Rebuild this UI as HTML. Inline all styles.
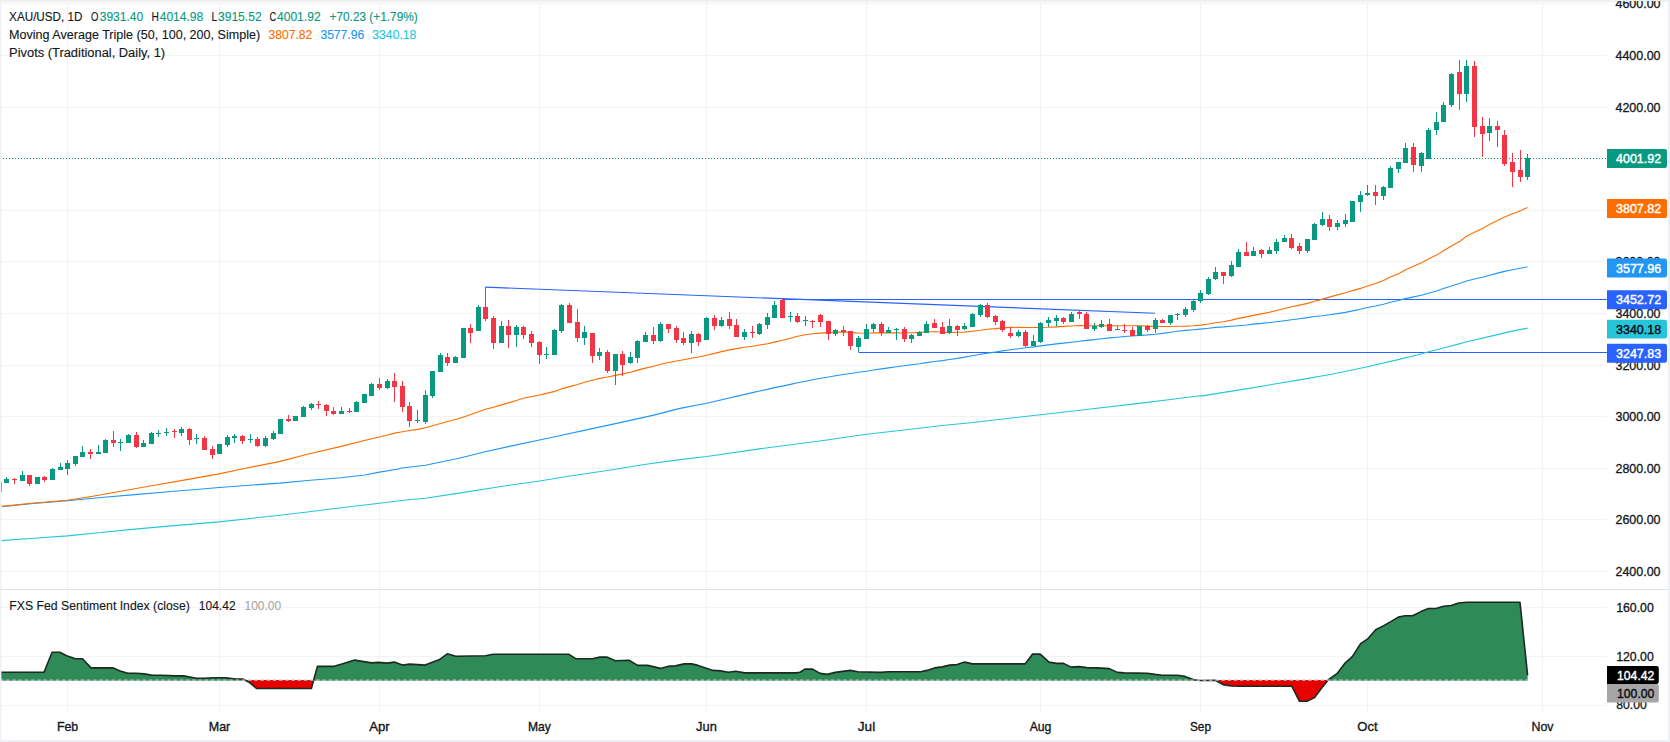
<!DOCTYPE html>
<html lang="en"><head><meta charset="utf-8"><title>XAU/USD 1D chart</title>
<style>html,body{margin:0;padding:0;background:#fff}body{width:1670px;height:742px;overflow:hidden}</style></head>
<body>
<svg width="1670" height="742" viewBox="0 0 1670 742" style="display:block">
<rect width="1670" height="742" fill="#fff"/>
<g stroke="#f2f3f3" stroke-width="1">
<line x1="67.50" y1="2" x2="67.50" y2="712"/>
<line x1="219.50" y1="2" x2="219.50" y2="712"/>
<line x1="379.50" y1="2" x2="379.50" y2="712"/>
<line x1="539.50" y1="2" x2="539.50" y2="712"/>
<line x1="706.50" y1="2" x2="706.50" y2="712"/>
<line x1="866.50" y1="2" x2="866.50" y2="712"/>
<line x1="1040.50" y1="2" x2="1040.50" y2="712"/>
<line x1="1200.50" y1="2" x2="1200.50" y2="712"/>
<line x1="1367.50" y1="2" x2="1367.50" y2="712"/>
<line x1="1542.50" y1="2" x2="1542.50" y2="712"/>
<line x1="0" y1="571.50" x2="1607" y2="571.50"/>
<line x1="0" y1="519.50" x2="1607" y2="519.50"/>
<line x1="0" y1="468.50" x2="1607" y2="468.50"/>
<line x1="0" y1="416.50" x2="1607" y2="416.50"/>
<line x1="0" y1="365.50" x2="1607" y2="365.50"/>
<line x1="0" y1="313.50" x2="1607" y2="313.50"/>
<line x1="0" y1="261.50" x2="1607" y2="261.50"/>
<line x1="0" y1="210.50" x2="1607" y2="210.50"/>
<line x1="0" y1="158.50" x2="1607" y2="158.50"/>
<line x1="0" y1="107.50" x2="1607" y2="107.50"/>
<line x1="0" y1="55.50" x2="1607" y2="55.50"/>
<line x1="0" y1="3.50" x2="1607" y2="3.50"/>
<line x1="0" y1="607.50" x2="1607" y2="607.50"/>
<line x1="0" y1="656.50" x2="1607" y2="656.50"/>
<line x1="0" y1="705.50" x2="1607" y2="705.50"/>
</g>
<line x1="0" y1="589.5" x2="1670" y2="589.5" stroke="#dfe2ea" stroke-width="1.2"/>
<g stroke="#2962ff" stroke-width="1.1" fill="none">
<line x1="485.5" y1="287.1" x2="1155" y2="313.3" stroke-width="1.15"/>
<line x1="782.5" y1="299.5" x2="1607" y2="299.5"/>
<line x1="858.5" y1="352.5" x2="1607" y2="352.5"/>
</g>
<line x1="0" y1="158.5" x2="1607" y2="158.5" stroke="#089981" stroke-width="1" stroke-dasharray="1 2"/>
<path d="M1.7,540.6 L33.7,538.2 L67.4,535.9 L101.1,532.5 L134.8,529.1 L168.5,526.1 L219.0,521.9 L252.7,518.2 L280.0,515.3 L307.4,512.0 L341.1,507.8 L379.5,503.3 L408.5,499.7 L425.3,498.2 L459.0,493.1 L501.1,486.5 L539.5,481.0 L568.5,476.3 L610.6,470.0 L644.3,464.5 L680.0,459.6 L706.7,456.5 L761.1,448.6 L820.0,441.0 L866.4,434.2 L904.3,430.0 L940.0,425.8 L970.5,422.8 L1040.5,414.7 L1088.5,409.3 L1139.0,403.4 L1172.7,399.2 L1200.0,395.8 L1200.6,396.1 L1247.4,388.6 L1297.9,380.1 L1331.6,374.2 L1367.5,366.7 L1399.0,359.4 L1417.0,355.0 L1426.8,352.3 L1440.5,348.8 L1460.0,343.6 L1465.8,342.0 L1491.1,336.1 L1511.3,331.4 L1527.6,328.1" fill="none" stroke="#26c6da" stroke-width="1.1" stroke-linejoin="round"/>
<path d="M1.7,506.7 L33.7,503.5 L67.4,500.8 L101.1,497.5 L134.8,494.6 L168.5,491.7 L202.2,489.0 L219.0,487.5 L252.7,485.0 L280.0,483.1 L307.4,480.5 L341.1,477.8 L364.7,475.0 L379.5,472.1 L400.0,468.7 L400.0,468.2 L425.3,465.3 L459.0,458.2 L484.2,452.0 L509.5,446.4 L539.5,440.0 L555.0,436.8 L585.3,430.1 L619.0,422.9 L652.7,415.4 L680.0,408.4 L706.7,403.2 L752.5,392.6 L759.5,391.0 L767.5,389.4 L774.5,387.6 L782.5,386.1 L790.5,384.4 L797.5,382.8 L805.5,381.2 L812.5,379.7 L820.5,378.3 L828.5,377.0 L835.5,375.7 L843.5,374.5 L850.5,373.5 L858.5,372.3 L866.5,371.2 L873.5,370.0 L881.5,368.9 L888.5,367.9 L896.5,366.7 L904.5,365.7 L911.5,364.7 L919.5,363.7 L926.5,362.6 L934.5,361.5 L942.5,360.6 L949.5,359.5 L957.5,358.4 L964.5,357.1 L972.5,355.7 L980.5,354.3 L987.5,353.1 L995.5,352.0 L1002.5,350.9 L1010.5,349.8 L1018.5,348.7 L1025.5,347.8 L1033.5,346.9 L1040.5,345.9 L1048.5,344.9 L1056.5,343.9 L1063.5,343.1 L1071.5,342.2 L1079.5,341.3 L1086.5,340.4 L1094.5,339.6 L1101.5,338.7 L1109.5,337.9 L1117.5,337.2 L1124.5,336.5 L1132.5,336.0 L1139.5,335.4 L1147.5,334.9 L1155.5,334.2 L1162.5,333.4 L1170.5,332.3 L1177.5,331.3 L1185.5,330.4 L1193.5,329.7 L1200.5,329.1 L1208.5,328.3 L1215.5,327.4 L1223.5,326.9 L1231.5,326.2 L1238.5,325.7 L1246.5,325.0 L1253.5,324.1 L1261.5,323.4 L1269.5,322.5 L1276.5,321.7 L1284.5,320.7 L1291.5,319.8 L1299.5,318.7 L1307.5,317.6 L1314.5,316.5 L1322.5,315.7 L1329.5,314.7 L1337.5,313.6 L1345.5,312.4 L1352.5,310.9 L1360.5,309.3 L1367.5,307.5 L1375.5,306.0 L1383.5,304.2 L1390.5,302.3 L1398.5,300.5 L1405.5,298.6 L1413.5,296.9 L1421.5,295.2 L1428.5,293.2 L1436.5,291.0 L1443.5,288.6 L1451.5,286.0 L1459.5,283.5 L1466.5,281.0 L1474.5,279.0 L1482.5,277.2 L1489.5,275.2 L1497.5,273.1 L1504.5,271.4 L1512.5,269.8 L1520.5,268.3 L1527.5,266.7" fill="none" stroke="#2196f3" stroke-width="1.1" stroke-linejoin="round"/>
<path d="M1.7,506.4 L33.7,503.0 L67.4,500.2 L92.7,496.3 L117.9,491.7 L151.6,485.8 L185.3,479.9 L219.0,473.9 L244.3,468.5 L280.0,461.4 L307.4,454.3 L341.1,446.4 L371.5,438.8 L379.5,437.0 L387.5,435.0 L394.5,433.1 L402.5,431.8 L409.5,430.5 L417.5,429.4 L425.5,427.7 L432.5,425.7 L440.5,423.5 L447.5,421.5 L455.5,419.5 L463.5,417.0 L470.5,414.6 L478.5,411.7 L485.5,409.2 L493.5,407.2 L501.5,404.9 L508.5,402.9 L516.5,400.5 L523.5,398.3 L531.5,396.5 L539.5,395.0 L546.5,393.4 L554.5,391.4 L561.5,388.9 L569.5,386.6 L577.5,384.5 L584.5,382.2 L592.5,380.2 L599.5,378.4 L607.5,377.0 L615.5,375.4 L622.5,373.9 L630.5,372.2 L637.5,370.1 L645.5,368.1 L653.5,366.2 L660.5,364.3 L668.5,362.5 L676.5,361.0 L683.5,359.7 L691.5,358.3 L698.5,357.0 L706.5,355.2 L714.5,353.4 L721.5,351.6 L729.5,349.9 L736.5,348.6 L744.5,347.3 L752.5,346.3 L759.5,345.0 L767.5,343.7 L774.5,342.1 L782.5,340.3 L790.5,338.2 L797.5,336.3 L805.5,334.8 L812.5,333.8 L820.5,333.1 L828.5,332.6 L835.5,332.0 L843.5,332.1 L850.5,332.4 L858.5,333.0 L866.5,333.2 L873.5,332.8 L881.5,332.9 L888.5,332.8 L896.5,332.9 L904.5,333.0 L911.5,332.8 L919.5,332.4 L926.5,331.8 L934.5,331.7 L942.5,332.3 L949.5,332.4 L957.5,332.2 L964.5,332.1 L972.5,331.2 L980.5,330.3 L987.5,329.2 L995.5,328.6 L1002.5,327.9 L1010.5,327.4 L1018.5,327.3 L1025.5,327.5 L1033.5,327.5 L1040.5,327.5 L1048.5,327.3 L1056.5,326.9 L1063.5,326.4 L1071.5,326.0 L1079.5,325.5 L1086.5,325.7 L1094.5,325.7 L1101.5,325.8 L1109.5,325.9 L1117.5,325.7 L1124.5,325.7 L1132.5,325.8 L1139.5,325.8 L1147.5,326.1 L1155.5,326.4 L1162.5,326.5 L1170.5,326.5 L1177.5,326.3 L1185.5,326.1 L1193.5,325.7 L1200.5,325.1 L1208.5,324.0 L1215.5,322.8 L1223.5,321.7 L1231.5,320.1 L1238.5,318.4 L1246.5,316.9 L1253.5,315.4 L1261.5,313.9 L1269.5,312.3 L1276.5,310.5 L1284.5,308.5 L1291.5,306.7 L1299.5,305.1 L1307.5,303.4 L1314.5,301.3 L1322.5,299.1 L1329.5,297.1 L1337.5,294.9 L1345.5,292.8 L1352.5,290.6 L1360.5,288.4 L1367.5,285.9 L1375.5,283.4 L1383.5,280.5 L1390.5,277.1 L1398.5,273.7 L1405.5,269.8 L1413.5,266.3 L1421.5,262.8 L1428.5,259.0 L1436.5,255.1 L1443.5,250.8 L1451.5,246.0 L1459.5,241.6 L1466.5,236.3 L1474.5,232.3 L1482.5,228.5 L1489.5,224.4 L1497.5,220.4 L1504.5,217.1 L1512.5,213.8 L1520.5,210.8 L1527.5,207.4" fill="none" stroke="#ff6d00" stroke-width="1.1" stroke-linejoin="round"/>
<path d="M-0.50,482.00V492.00M6.50,477.00V483.00M22.50,471.00V481.00M37.50,477.00V484.00M52.50,468.00V480.00M60.50,463.00V470.00M67.50,460.00V475.00M75.50,456.00V466.00M82.50,446.00V457.00M98.50,445.00V454.00M105.50,439.00V453.00M120.50,439.00V451.00M128.50,434.00V443.00M143.50,440.00V447.00M151.50,432.00V444.00M158.50,430.00V437.00M166.50,428.00V436.00M181.50,427.00V436.00M196.50,434.00V444.00M219.50,444.00V454.00M227.50,435.00V447.00M234.50,434.00V443.00M250.50,434.00V443.00M265.50,436.00V447.00M273.50,431.00V440.00M280.50,419.00V434.00M295.50,416.00V421.00M303.50,406.00V417.00M311.50,403.00V410.00M341.50,407.00V414.00M356.50,401.00V412.00M364.50,394.00V403.00M371.50,383.00V396.00M387.50,379.00V389.00M417.50,410.00V423.00M425.50,390.00V424.00M432.50,371.00V398.00M440.50,353.00V372.00M455.50,356.00V363.00M463.50,328.00V358.00M478.50,305.00V331.00M501.50,321.00V343.00M516.50,325.00V347.00M546.50,347.00V359.00M554.50,329.00V355.00M561.50,304.00V333.00M584.50,326.00V345.00M599.50,348.00V360.00M615.50,354.00V385.00M630.50,352.00V364.00M637.50,340.00V363.00M645.50,332.00V342.00M660.50,322.00V342.00M691.50,331.00V353.00M706.50,317.00V340.00M721.50,317.00V327.00M744.50,329.00V340.00M759.50,323.00V335.00M767.50,313.00V329.00M774.50,301.00V318.00M790.50,312.00V322.00M805.50,316.00V326.00M835.50,329.00V336.00M858.50,336.00V352.00M866.50,324.00V339.00M873.50,323.00V332.00M888.50,327.00V333.00M896.50,328.00V340.00M911.50,334.00V343.00M919.50,331.00V336.00M926.50,321.00V333.00M949.50,319.00V334.00M964.50,323.00V330.00M972.50,313.00V327.00M980.50,304.00V317.00M1018.50,330.00V337.00M1033.50,335.00V346.00M1040.50,322.00V343.00M1048.50,317.00V327.00M1056.50,315.00V326.00M1071.50,312.00V322.00M1094.50,323.00V331.00M1101.50,320.00V328.00M1117.50,326.00V330.00M1139.50,326.00V336.00M1155.50,318.00V333.00M1170.50,315.00V325.00M1177.50,313.00V320.00M1185.50,307.00V317.00M1193.50,299.00V312.00M1200.50,290.00V303.00M1208.50,277.00V295.00M1215.50,267.00V280.00M1231.50,261.00V277.00M1238.50,249.00V267.00M1253.50,247.00V256.00M1269.50,247.00V254.00M1276.50,239.00V254.00M1284.50,235.00V242.00M1307.50,239.00V253.00M1314.50,223.00V240.00M1322.50,212.00V226.00M1337.50,220.00V230.00M1345.50,214.00V227.00M1352.50,201.00V222.00M1360.50,191.00V212.00M1367.50,185.00V196.00M1383.50,186.00V200.00M1390.50,166.00V188.00M1398.50,162.00V173.00M1405.50,143.00V163.00M1421.50,152.00V172.00M1428.50,128.00V159.00M1436.50,112.00V135.00M1443.50,102.00V122.00M1451.50,73.00V107.00M1466.50,60.00V102.00M1489.50,118.00V141.00M1527.50,154.00V180.00" stroke="#089981" stroke-width="1" fill="none"/>
<path d="M-3.00,482.00h5V492.00h-5zM4.00,479.00h5V483.00h-5zM20.00,475.00h5V481.00h-5zM35.00,477.00h5V484.00h-5zM50.00,469.00h5V480.00h-5zM58.00,467.00h5V470.00h-5zM65.00,463.00h5V469.00h-5zM73.00,456.00h5V464.00h-5zM80.00,452.00h5V457.00h-5zM96.00,452.00h5V454.00h-5zM103.00,440.00h5V453.00h-5zM118.00,442.00h5V443.00h-5zM126.00,435.00h5V443.00h-5zM141.00,443.00h5V447.00h-5zM149.00,433.00h5V444.00h-5zM156.00,433.00h5V434.00h-5zM164.00,432.00h5V433.00h-5zM179.00,429.00h5V433.00h-5zM194.00,438.00h5V439.00h-5zM217.00,444.00h5V454.00h-5zM225.00,437.00h5V445.00h-5zM232.00,436.00h5V438.00h-5zM248.00,439.00h5V440.00h-5zM263.00,438.00h5V446.00h-5zM271.00,433.00h5V439.00h-5zM278.00,419.00h5V434.00h-5zM293.00,416.00h5V421.00h-5zM301.00,407.00h5V417.00h-5zM309.00,404.00h5V408.00h-5zM339.00,411.00h5V414.00h-5zM354.00,402.00h5V412.00h-5zM362.00,394.00h5V403.00h-5zM369.00,384.00h5V396.00h-5zM385.00,381.00h5V388.00h-5zM415.00,420.00h5V421.00h-5zM423.00,395.00h5V422.00h-5zM430.00,371.00h5V396.00h-5zM438.00,355.00h5V372.00h-5zM453.00,357.00h5V363.00h-5zM461.00,328.00h5V358.00h-5zM476.00,307.00h5V331.00h-5zM499.00,326.00h5V343.00h-5zM514.00,327.00h5V335.00h-5zM544.00,354.00h5V355.00h-5zM552.00,330.00h5V355.00h-5zM559.00,305.00h5V331.00h-5zM582.00,332.00h5V338.00h-5zM597.00,352.00h5V356.00h-5zM613.00,354.00h5V371.00h-5zM628.00,357.00h5V363.00h-5zM635.00,341.00h5V358.00h-5zM643.00,335.00h5V342.00h-5zM658.00,324.00h5V341.00h-5zM689.00,334.00h5V343.00h-5zM704.00,318.00h5V340.00h-5zM719.00,320.00h5V326.00h-5zM742.00,332.00h5V337.00h-5zM757.00,324.00h5V334.00h-5zM765.00,317.00h5V325.00h-5zM772.00,305.00h5V318.00h-5zM788.00,316.00h5V317.00h-5zM803.00,320.00h5V321.00h-5zM833.00,330.00h5V334.00h-5zM856.00,338.00h5V347.00h-5zM864.00,329.00h5V339.00h-5zM871.00,324.00h5V329.00h-5zM886.00,330.00h5V333.00h-5zM894.00,329.00h5V330.00h-5zM909.00,335.00h5V339.00h-5zM917.00,332.00h5V336.00h-5zM924.00,324.00h5V333.00h-5zM947.00,326.00h5V333.00h-5zM962.00,326.00h5V329.00h-5zM970.00,314.00h5V327.00h-5zM978.00,305.00h5V315.00h-5zM1016.00,332.00h5V336.00h-5zM1031.00,341.00h5V346.00h-5zM1038.00,323.00h5V342.00h-5zM1046.00,320.00h5V323.00h-5zM1054.00,318.00h5V321.00h-5zM1069.00,314.00h5V322.00h-5zM1092.00,326.00h5V329.00h-5zM1099.00,324.00h5V327.00h-5zM1115.00,329.00h5V330.00h-5zM1137.00,326.00h5V336.00h-5zM1153.00,320.00h5V329.00h-5zM1168.00,315.00h5V323.00h-5zM1175.00,314.00h5V315.00h-5zM1183.00,309.00h5V315.00h-5zM1191.00,301.00h5V310.00h-5zM1198.00,293.00h5V301.00h-5zM1206.00,279.00h5V294.00h-5zM1213.00,272.00h5V279.00h-5zM1229.00,265.00h5V276.00h-5zM1236.00,252.00h5V267.00h-5zM1251.00,251.00h5V256.00h-5zM1267.00,250.00h5V254.00h-5zM1274.00,242.00h5V251.00h-5zM1282.00,238.00h5V242.00h-5zM1305.00,239.00h5V251.00h-5zM1312.00,224.00h5V240.00h-5zM1320.00,219.00h5V225.00h-5zM1335.00,223.00h5V227.00h-5zM1343.00,220.00h5V224.00h-5zM1350.00,201.00h5V222.00h-5zM1358.00,195.00h5V202.00h-5zM1365.00,193.00h5V195.00h-5zM1381.00,187.00h5V196.00h-5zM1388.00,168.00h5V188.00h-5zM1396.00,162.00h5V169.00h-5zM1403.00,148.00h5V163.00h-5zM1419.00,153.00h5V166.00h-5zM1426.00,130.00h5V159.00h-5zM1434.00,122.00h5V130.00h-5zM1441.00,105.00h5V122.00h-5zM1449.00,74.00h5V105.00h-5zM1464.00,66.00h5V94.00h-5zM1487.00,126.00h5V133.00h-5zM1525.00,158.00h5V177.00h-5z" fill="#089981"/>
<path d="M14.50,478.00V484.00M29.50,475.00V486.00M44.50,476.00V482.00M90.50,449.00V459.00M113.50,431.00V447.00M136.50,432.00V448.00M174.50,429.00V438.00M189.50,428.00V445.00M204.50,436.00V450.00M212.50,446.00V459.00M242.50,435.00V444.00M257.50,437.00V447.00M288.50,415.00V422.00M318.50,401.00V409.00M326.50,404.00V416.00M333.50,407.00V415.00M349.50,408.00V413.00M379.50,378.00V390.00M394.50,373.00V402.00M402.50,381.00V412.00M409.50,402.00V427.00M447.50,353.00V366.00M470.50,324.00V343.00M485.50,287.00V321.00M493.50,316.00V349.00M508.50,320.00V348.00M523.50,326.00V339.00M531.50,331.00V347.00M539.50,341.00V364.00M569.50,303.00V323.00M577.50,309.00V342.00M592.50,333.00V363.00M607.50,350.00V373.00M622.50,351.00V376.00M653.50,327.00V344.00M668.50,324.00V333.00M676.50,326.00V343.00M683.50,332.00V345.00M698.50,333.00V346.00M714.50,315.00V330.00M729.50,312.00V329.00M736.50,319.00V337.00M752.50,326.00V338.00M782.50,299.00V318.00M797.50,313.00V323.00M812.50,320.00V328.00M820.50,314.00V327.00M828.50,321.00V340.00M843.50,326.00V336.00M850.50,331.00V350.00M881.50,322.00V336.00M904.50,327.00V342.00M934.50,319.00V328.00M942.50,322.00V334.00M957.50,325.00V336.00M987.50,303.00V318.00M995.50,315.00V325.00M1002.50,320.00V332.00M1010.50,327.00V338.00M1025.50,330.00V347.00M1063.50,317.00V324.00M1079.50,311.00V319.00M1086.50,312.00V329.00M1109.50,319.00V331.00M1124.50,324.00V333.00M1132.50,327.00V336.00M1147.50,325.00V332.00M1162.50,319.00V323.00M1223.50,272.00V284.00M1246.50,242.00V256.00M1261.50,249.00V258.00M1291.50,234.00V249.00M1299.50,243.00V254.00M1329.50,215.00V231.00M1375.50,185.00V205.00M1413.50,143.00V172.00M1459.50,60.00V110.00M1474.50,61.00V137.00M1482.50,117.00V157.00M1497.50,121.00V147.00M1504.50,130.00V166.00M1512.50,153.00V187.00M1520.50,150.00V182.00" stroke="#f23645" stroke-width="1" fill="none"/>
<path d="M12.00,479.00h5V480.00h-5zM27.00,475.00h5V484.00h-5zM42.00,477.00h5V480.00h-5zM88.00,452.00h5V454.00h-5zM111.00,440.00h5V443.00h-5zM134.00,435.00h5V447.00h-5zM172.00,431.00h5V432.00h-5zM187.00,429.00h5V440.00h-5zM202.00,438.00h5V450.00h-5zM210.00,449.00h5V455.00h-5zM240.00,436.00h5V441.00h-5zM255.00,439.00h5V446.00h-5zM286.00,419.00h5V421.00h-5zM316.00,404.00h5V405.00h-5zM324.00,405.00h5V411.00h-5zM331.00,411.00h5V414.00h-5zM347.00,411.00h5V412.00h-5zM377.00,384.00h5V388.00h-5zM392.00,381.00h5V387.00h-5zM400.00,386.00h5V407.00h-5zM407.00,406.00h5V421.00h-5zM445.00,357.00h5V363.00h-5zM468.00,328.00h5V333.00h-5zM483.00,307.00h5V319.00h-5zM491.00,318.00h5V343.00h-5zM506.00,326.00h5V335.00h-5zM521.00,327.00h5V335.00h-5zM529.00,334.00h5V343.00h-5zM537.00,342.00h5V355.00h-5zM567.00,305.00h5V323.00h-5zM575.00,322.00h5V338.00h-5zM590.00,333.00h5V356.00h-5zM605.00,352.00h5V371.00h-5zM620.00,354.00h5V365.00h-5zM651.00,335.00h5V341.00h-5zM666.00,324.00h5V329.00h-5zM674.00,328.00h5V340.00h-5zM681.00,338.00h5V343.00h-5zM696.00,334.00h5V342.00h-5zM712.00,318.00h5V326.00h-5zM727.00,319.00h5V326.00h-5zM734.00,325.00h5V337.00h-5zM750.00,332.00h5V333.00h-5zM780.00,300.00h5V318.00h-5zM795.00,316.00h5V322.00h-5zM810.00,321.00h5V322.00h-5zM818.00,315.00h5V322.00h-5zM826.00,321.00h5V334.00h-5zM841.00,330.00h5V332.00h-5zM848.00,331.00h5V346.00h-5zM879.00,324.00h5V333.00h-5zM902.00,329.00h5V339.00h-5zM932.00,323.00h5V328.00h-5zM940.00,327.00h5V334.00h-5zM955.00,326.00h5V330.00h-5zM985.00,305.00h5V317.00h-5zM993.00,316.00h5V322.00h-5zM1000.00,321.00h5V330.00h-5zM1008.00,333.00h5V336.00h-5zM1023.00,332.00h5V346.00h-5zM1061.00,318.00h5V322.00h-5zM1077.00,312.00h5V314.00h-5zM1084.00,314.00h5V329.00h-5zM1107.00,324.00h5V331.00h-5zM1122.00,330.00h5V331.00h-5zM1130.00,330.00h5V336.00h-5zM1145.00,326.00h5V330.00h-5zM1160.00,320.00h5V323.00h-5zM1221.00,272.00h5V276.00h-5zM1244.00,252.00h5V256.00h-5zM1259.00,250.00h5V254.00h-5zM1289.00,238.00h5V248.00h-5zM1297.00,246.00h5V251.00h-5zM1327.00,219.00h5V227.00h-5zM1373.00,192.00h5V196.00h-5zM1411.00,147.00h5V165.00h-5zM1457.00,72.00h5V94.00h-5zM1472.00,66.00h5V127.00h-5zM1480.00,126.00h5V134.00h-5zM1495.00,126.00h5V130.00h-5zM1502.00,135.00h5V164.00h-5zM1510.00,162.00h5V172.00h-5zM1518.00,170.00h5V177.00h-5z" fill="#f23645"/>
<path d="M0.0,672.2 L2.0,672.2 L44.0,672.2 L52.1,652.3 L59.9,652.3 L66.6,655.8 L75.4,658.8 L82.5,658.8 L91.0,667.9 L113.2,667.9 L120.2,670.9 L127.8,673.2 L135.8,673.2 L144.6,673.9 L152.2,675.2 L161.0,675.2 L176.0,675.9 L183.6,675.9 L196.2,678.2 L203.7,678.2 L213.8,677.7 L226.3,677.7 L235.1,679.0 L242.7,679.0 L245.7,680.8 L249.0,680.8 L256.5,680.8 L311.4,680.8 L313.5,680.8 L317.4,666.4 L333.2,666.4 L342.0,663.9 L354.6,660.1 L362.2,661.4 L371.7,662.9 L378.5,662.4 L387.3,663.1 L394.3,662.1 L402.4,665.1 L409.9,664.1 L425.1,665.1 L439.0,659.8 L447.3,653.8 L455.8,656.3 L485.5,655.8 L493.1,654.3 L569.0,654.3 L576.0,658.8 L592.4,658.8 L599.9,657.1 L606.7,657.1 L615.3,660.8 L628.9,660.3 L637.7,665.4 L647.7,665.4 L660.3,668.4 L667.8,666.4 L675.4,665.9 L684.2,663.9 L691.7,663.9 L698.0,665.4 L713.1,670.4 L720.7,670.9 L728.2,672.2 L735.7,671.2 L744.6,672.9 L796.1,672.9 L800.0,672.2 L804.9,669.1 L805.0,669.1 L812.5,669.1 L812.6,669.1 L820.1,673.4 L827.2,674.4 L835.2,672.4 L850.3,670.4 L857.8,671.7 L880.5,672.4 L888.0,671.7 L920.7,671.7 L927.0,670.4 L934.6,667.9 L942.1,666.9 L949.6,665.1 L957.2,664.6 L964.7,662.1 L972.3,663.9 L1025.1,663.9 L1032.6,654.1 L1040.2,654.1 L1049.0,662.1 L1056.5,663.4 L1063.6,663.4 L1071.1,667.1 L1078.7,666.6 L1086.7,667.6 L1096.8,667.9 L1109.3,668.6 L1117.4,672.4 L1124.4,672.9 L1147.1,673.2 L1155.1,674.4 L1162.2,675.2 L1177.2,675.2 L1185.0,676.4 L1193.8,679.7 L1200.1,680.5 L1215.2,680.2 L1215.7,680.8 L1224.0,680.8 L1231.6,680.8 L1239.1,680.8 L1291.9,680.8 L1299.5,680.8 L1307.0,680.8 L1314.6,680.8 L1321.3,680.8 L1327.8,680.8 L1328.4,679.7 L1337.2,673.4 L1344.7,663.4 L1352.3,656.6 L1360.6,643.7 L1367.4,639.2 L1375.7,629.7 L1383.7,625.6 L1390.8,621.6 L1398.3,617.1 L1405.1,615.8 L1412.6,615.8 L1420.9,611.6 L1428.5,608.5 L1436.0,608.5 L1443.6,606.3 L1451.1,605.5 L1458.7,603.0 L1466.7,602.3 L1520.0,602.3 L1527.6,675.4 L1527.6,680.8 L0.0,680.8 Z" fill="#2e8b57"/>
<path d="M0.0,680.0 L2.0,680.0 L44.0,680.0 L52.1,680.0 L59.9,680.0 L66.6,680.0 L75.4,680.0 L82.5,680.0 L91.0,680.0 L113.2,680.0 L120.2,680.0 L127.8,680.0 L135.8,680.0 L144.6,680.0 L152.2,680.0 L161.0,680.0 L176.0,680.0 L183.6,680.0 L196.2,680.0 L203.7,680.0 L213.8,680.0 L226.3,680.0 L235.1,680.0 L242.7,680.0 L245.7,680.0 L249.0,682.2 L256.5,688.5 L311.4,688.5 L313.5,680.0 L317.4,680.0 L333.2,680.0 L342.0,680.0 L354.6,680.0 L362.2,680.0 L371.7,680.0 L378.5,680.0 L387.3,680.0 L394.3,680.0 L402.4,680.0 L409.9,680.0 L425.1,680.0 L439.0,680.0 L447.3,680.0 L455.8,680.0 L485.5,680.0 L493.1,680.0 L569.0,680.0 L576.0,680.0 L592.4,680.0 L599.9,680.0 L606.7,680.0 L615.3,680.0 L628.9,680.0 L637.7,680.0 L647.7,680.0 L660.3,680.0 L667.8,680.0 L675.4,680.0 L684.2,680.0 L691.7,680.0 L698.0,680.0 L713.1,680.0 L720.7,680.0 L728.2,680.0 L735.7,680.0 L744.6,680.0 L796.1,680.0 L800.0,680.0 L804.9,680.0 L805.0,680.0 L812.5,680.0 L812.6,680.0 L820.1,680.0 L827.2,680.0 L835.2,680.0 L850.3,680.0 L857.8,680.0 L880.5,680.0 L888.0,680.0 L920.7,680.0 L927.0,680.0 L934.6,680.0 L942.1,680.0 L949.6,680.0 L957.2,680.0 L964.7,680.0 L972.3,680.0 L1025.1,680.0 L1032.6,680.0 L1040.2,680.0 L1049.0,680.0 L1056.5,680.0 L1063.6,680.0 L1071.1,680.0 L1078.7,680.0 L1086.7,680.0 L1096.8,680.0 L1109.3,680.0 L1117.4,680.0 L1124.4,680.0 L1147.1,680.0 L1155.1,680.0 L1162.2,680.0 L1177.2,680.0 L1185.0,680.0 L1193.8,680.0 L1200.1,680.0 L1215.2,680.0 L1215.7,680.0 L1224.0,685.0 L1231.6,686.0 L1239.1,686.3 L1291.9,686.3 L1299.5,701.3 L1307.0,701.3 L1314.6,697.6 L1321.3,688.5 L1327.8,680.0 L1328.4,680.0 L1337.2,680.0 L1344.7,680.0 L1352.3,680.0 L1360.6,680.0 L1367.4,680.0 L1375.7,680.0 L1383.7,680.0 L1390.8,680.0 L1398.3,680.0 L1405.1,680.0 L1412.6,680.0 L1420.9,680.0 L1428.5,680.0 L1436.0,680.0 L1443.6,680.0 L1451.1,680.0 L1458.7,680.0 L1466.7,680.0 L1520.0,680.0 L1527.6,680.0 L1527.6,680.0 L0.0,680.0 Z" fill="#e60000"/>
<path d="M0.0,672.2 L2.0,672.2 L44.0,672.2 L52.1,652.3 L59.9,652.3 L66.6,655.8 L75.4,658.8 L82.5,658.8 L91.0,667.9 L113.2,667.9 L120.2,670.9 L127.8,673.2 L135.8,673.2 L144.6,673.9 L152.2,675.2 L161.0,675.2 L176.0,675.9 L183.6,675.9 L196.2,678.2 L203.7,678.2 L213.8,677.7 L226.3,677.7 L235.1,679.0 L242.7,679.0 L245.7,680.5 L249.0,682.2 L256.5,688.5 L311.4,688.5 L313.5,680.5 L317.4,666.4 L333.2,666.4 L342.0,663.9 L354.6,660.1 L362.2,661.4 L371.7,662.9 L378.5,662.4 L387.3,663.1 L394.3,662.1 L402.4,665.1 L409.9,664.1 L425.1,665.1 L439.0,659.8 L447.3,653.8 L455.8,656.3 L485.5,655.8 L493.1,654.3 L569.0,654.3 L576.0,658.8 L592.4,658.8 L599.9,657.1 L606.7,657.1 L615.3,660.8 L628.9,660.3 L637.7,665.4 L647.7,665.4 L660.3,668.4 L667.8,666.4 L675.4,665.9 L684.2,663.9 L691.7,663.9 L698.0,665.4 L713.1,670.4 L720.7,670.9 L728.2,672.2 L735.7,671.2 L744.6,672.9 L796.1,672.9 L800.0,672.2 L804.9,669.1 L805.0,669.1 L812.5,669.1 L812.6,669.1 L820.1,673.4 L827.2,674.4 L835.2,672.4 L850.3,670.4 L857.8,671.7 L880.5,672.4 L888.0,671.7 L920.7,671.7 L927.0,670.4 L934.6,667.9 L942.1,666.9 L949.6,665.1 L957.2,664.6 L964.7,662.1 L972.3,663.9 L1025.1,663.9 L1032.6,654.1 L1040.2,654.1 L1049.0,662.1 L1056.5,663.4 L1063.6,663.4 L1071.1,667.1 L1078.7,666.6 L1086.7,667.6 L1096.8,667.9 L1109.3,668.6 L1117.4,672.4 L1124.4,672.9 L1147.1,673.2 L1155.1,674.4 L1162.2,675.2 L1177.2,675.2 L1185.0,676.4 L1193.8,679.7 L1200.1,680.5 L1215.2,680.2 L1215.7,680.5 L1224.0,685.0 L1231.6,686.0 L1239.1,686.3 L1291.9,686.3 L1299.5,701.3 L1307.0,701.3 L1314.6,697.6 L1321.3,688.5 L1327.8,680.5 L1328.4,679.7 L1337.2,673.4 L1344.7,663.4 L1352.3,656.6 L1360.6,643.7 L1367.4,639.2 L1375.7,629.7 L1383.7,625.6 L1390.8,621.6 L1398.3,617.1 L1405.1,615.8 L1412.6,615.8 L1420.9,611.6 L1428.5,608.5 L1436.0,608.5 L1443.6,606.3 L1451.1,605.5 L1458.7,603.0 L1466.7,602.3 L1520.0,602.3 L1527.6,675.4" fill="none" stroke="#1c2a22" stroke-width="1.6" stroke-linejoin="round"/>
<line x1="0" y1="680.1" x2="1527.6" y2="680.1" stroke="#c2c2c2" stroke-width="1.3" stroke-dasharray="3.5 2.7"/>
<rect x="0" y="0" width="1670" height="2.1" fill="#eef0f4"/>
<rect x="0" y="0" width="1.4" height="742" fill="#eef0f4"/>
<rect x="1668.1" y="0" width="1.9" height="742" fill="#eef0f4"/>
<rect x="0" y="739.8" width="1670" height="2.2" fill="#eef0f4"/>
<g font-family="Liberation Sans, Arial, sans-serif">
<text x="1615.5" y="576.4" font-size="12" fill="#131722" text-anchor="start" stroke="#131722" stroke-width="0.3" textLength="45.0" lengthAdjust="spacingAndGlyphs">2400.00</text>
<text x="1615.5" y="524.4" font-size="12" fill="#131722" text-anchor="start" stroke="#131722" stroke-width="0.3" textLength="45.0" lengthAdjust="spacingAndGlyphs">2600.00</text>
<text x="1615.5" y="473.4" font-size="12" fill="#131722" text-anchor="start" stroke="#131722" stroke-width="0.3" textLength="45.0" lengthAdjust="spacingAndGlyphs">2800.00</text>
<text x="1615.5" y="421.4" font-size="12" fill="#131722" text-anchor="start" stroke="#131722" stroke-width="0.3" textLength="45.0" lengthAdjust="spacingAndGlyphs">3000.00</text>
<text x="1615.5" y="370.4" font-size="12" fill="#131722" text-anchor="start" stroke="#131722" stroke-width="0.3" textLength="45.0" lengthAdjust="spacingAndGlyphs">3200.00</text>
<text x="1615.5" y="318.4" font-size="12" fill="#131722" text-anchor="start" stroke="#131722" stroke-width="0.3" textLength="45.0" lengthAdjust="spacingAndGlyphs">3400.00</text>
<text x="1615.5" y="266.4" font-size="12" fill="#131722" text-anchor="start" stroke="#131722" stroke-width="0.3" textLength="45.0" lengthAdjust="spacingAndGlyphs">3600.00</text>
<text x="1615.5" y="215.4" font-size="12" fill="#131722" text-anchor="start" stroke="#131722" stroke-width="0.3" textLength="45.0" lengthAdjust="spacingAndGlyphs">3800.00</text>
<text x="1615.5" y="163.4" font-size="12" fill="#131722" text-anchor="start" stroke="#131722" stroke-width="0.3" textLength="45.0" lengthAdjust="spacingAndGlyphs">4000.00</text>
<text x="1615.5" y="112.4" font-size="12" fill="#131722" text-anchor="start" stroke="#131722" stroke-width="0.3" textLength="45.0" lengthAdjust="spacingAndGlyphs">4200.00</text>
<text x="1615.5" y="60.4" font-size="12" fill="#131722" text-anchor="start" stroke="#131722" stroke-width="0.3" textLength="45.0" lengthAdjust="spacingAndGlyphs">4400.00</text>
<text x="1615.5" y="7.7" font-size="12" fill="#131722" text-anchor="start" stroke="#131722" stroke-width="0.3" textLength="45.0" lengthAdjust="spacingAndGlyphs">4600.00</text>
<text x="1616.2" y="611.5" font-size="12" fill="#131722" text-anchor="start" stroke="#131722" stroke-width="0.3" textLength="37.6" lengthAdjust="spacingAndGlyphs">160.00</text>
<text x="1616.2" y="661.1" font-size="12" fill="#131722" text-anchor="start" stroke="#131722" stroke-width="0.3" textLength="37.6" lengthAdjust="spacingAndGlyphs">120.00</text>
<text x="1616.2" y="708.6" font-size="12" fill="#131722" text-anchor="start" stroke="#131722" stroke-width="0.3" textLength="30.5" lengthAdjust="spacingAndGlyphs">80.00</text>
<path d="M1607,258.5H1664.8Q1667.0,258.5 1667.0,260.7V275.3Q1667.0,277.5 1664.8,277.5H1607Z" fill="#2196f3"/>
<text x="1616.0" y="272.7" font-size="12" fill="#fff" text-anchor="start" stroke="#fff" stroke-width="0.4" textLength="45.2" lengthAdjust="spacingAndGlyphs">3577.96</text>
<path d="M1607,319.7H1664.8Q1667.0,319.7 1667.0,321.9V336.3Q1667.0,338.5 1664.8,338.5H1607Z" fill="#26c6da"/>
<text x="1616.0" y="333.8" font-size="12" fill="#0b0e14" text-anchor="start" stroke="#0b0e14" stroke-width="0.4" textLength="45.2" lengthAdjust="spacingAndGlyphs">3340.18</text>
<path d="M1607,290.2H1664.8Q1667.0,290.2 1667.0,292.4V307.0Q1667.0,309.2 1664.8,309.2H1607Z" fill="#2962ff"/>
<text x="1616.0" y="304.4" font-size="12" fill="#fff" text-anchor="start" stroke="#fff" stroke-width="0.4" textLength="45.2" lengthAdjust="spacingAndGlyphs">3452.72</text>
<path d="M1607,343.7H1664.8Q1667.0,343.7 1667.0,345.9V360.5Q1667.0,362.7 1664.8,362.7H1607Z" fill="#2962ff"/>
<text x="1616.0" y="357.9" font-size="12" fill="#fff" text-anchor="start" stroke="#fff" stroke-width="0.4" textLength="45.2" lengthAdjust="spacingAndGlyphs">3247.83</text>
<path d="M1607,199.1H1664.8Q1667.0,199.1 1667.0,201.3V215.9Q1667.0,218.1 1664.8,218.1H1607Z" fill="#ff6d00"/>
<text x="1616.0" y="213.3" font-size="12" fill="#fff" text-anchor="start" stroke="#fff" stroke-width="0.4" textLength="45.2" lengthAdjust="spacingAndGlyphs">3807.82</text>
<path d="M1607,149.0H1664.8Q1667.0,149.0 1667.0,151.2V165.8Q1667.0,168.0 1664.8,168.0H1607Z" fill="#089981"/>
<text x="1616.0" y="163.2" font-size="12" fill="#fff" text-anchor="start" stroke="#fff" stroke-width="0.4" textLength="45.2" lengthAdjust="spacingAndGlyphs">4001.92</text>
<path d="M1607,684.0H1656.6Q1658.8,684.0 1658.8,686.2V700.4Q1658.8,702.6 1656.6,702.6H1607Z" fill="#a6a6a6"/>
<text x="1617.1" y="698.0" font-size="12" fill="#0b0e14" text-anchor="start" stroke="#0b0e14" stroke-width="0.4" textLength="37.2" lengthAdjust="spacingAndGlyphs">100.00</text>
<path d="M1607,666.0H1656.6Q1658.8,666.0 1658.8,668.2V681.8Q1658.8,684.0 1656.6,684.0H1607Z" fill="#000"/>
<text x="1617.1" y="679.7" font-size="12" fill="#fff" text-anchor="start" stroke="#fff" stroke-width="0.4" textLength="37.2" lengthAdjust="spacingAndGlyphs">104.42</text>
<text x="56.9" y="730.9" font-size="13" fill="#131722" text-anchor="start" stroke="#131722" stroke-width="0.35" textLength="21.3" lengthAdjust="spacingAndGlyphs">Feb</text>
<text x="208.7" y="730.9" font-size="13" fill="#131722" text-anchor="start" stroke="#131722" stroke-width="0.35" textLength="21.6" lengthAdjust="spacingAndGlyphs">Mar</text>
<text x="369.2" y="730.9" font-size="13" fill="#131722" text-anchor="start" stroke="#131722" stroke-width="0.35" textLength="20.5" lengthAdjust="spacingAndGlyphs">Apr</text>
<text x="528.0" y="730.9" font-size="13" fill="#131722" text-anchor="start" stroke="#131722" stroke-width="0.35" textLength="22.9" lengthAdjust="spacingAndGlyphs">May</text>
<text x="696.1" y="730.9" font-size="13" fill="#131722" text-anchor="start" stroke="#131722" stroke-width="0.35" textLength="20.8" lengthAdjust="spacingAndGlyphs">Jun</text>
<text x="857.8" y="730.9" font-size="13" fill="#131722" text-anchor="start" stroke="#131722" stroke-width="0.35" textLength="17.4" lengthAdjust="spacingAndGlyphs">Jul</text>
<text x="1029.7" y="730.9" font-size="13" fill="#131722" text-anchor="start" stroke="#131722" stroke-width="0.35" textLength="21.7" lengthAdjust="spacingAndGlyphs">Aug</text>
<text x="1190.0" y="730.9" font-size="13" fill="#131722" text-anchor="start" stroke="#131722" stroke-width="0.35" textLength="21.0" lengthAdjust="spacingAndGlyphs">Sep</text>
<text x="1357.3" y="730.9" font-size="13" fill="#131722" text-anchor="start" stroke="#131722" stroke-width="0.35" textLength="20.3" lengthAdjust="spacingAndGlyphs">Oct</text>
<text x="1531.5" y="730.9" font-size="13" fill="#131722" text-anchor="start" stroke="#131722" stroke-width="0.35" textLength="22.0" lengthAdjust="spacingAndGlyphs">Nov</text>
<text x="9.1" y="20.9" font-size="12" fill="#131722" text-anchor="start" stroke="#131722" stroke-width="0.12" textLength="73.4" lengthAdjust="spacingAndGlyphs">XAU/USD, 1D</text>
<text x="91.0" y="20.9" font-size="12" fill="#131722" text-anchor="start" stroke="#131722" stroke-width="0.12" textLength="7.4" lengthAdjust="spacingAndGlyphs">O</text>
<text x="99.7" y="20.9" font-size="12" fill="#089981" text-anchor="start" stroke="#089981" stroke-width="0.12" textLength="43.6" lengthAdjust="spacingAndGlyphs">3931.40</text>
<text x="151.6" y="20.9" font-size="12" fill="#131722" text-anchor="start" stroke="#131722" stroke-width="0.12" textLength="7.4" lengthAdjust="spacingAndGlyphs">H</text>
<text x="159.7" y="20.9" font-size="12" fill="#089981" text-anchor="start" stroke="#089981" stroke-width="0.12" textLength="43.6" lengthAdjust="spacingAndGlyphs">4014.98</text>
<text x="211.6" y="20.9" font-size="12" fill="#131722" text-anchor="start" stroke="#131722" stroke-width="0.12" textLength="5.7" lengthAdjust="spacingAndGlyphs">L</text>
<text x="218.0" y="20.9" font-size="12" fill="#089981" text-anchor="start" stroke="#089981" stroke-width="0.12" textLength="43.6" lengthAdjust="spacingAndGlyphs">3915.52</text>
<text x="269.5" y="20.9" font-size="12" fill="#131722" text-anchor="start" stroke="#131722" stroke-width="0.12" textLength="6.8" lengthAdjust="spacingAndGlyphs">C</text>
<text x="277.0" y="20.9" font-size="12" fill="#089981" text-anchor="start" stroke="#089981" stroke-width="0.12" textLength="43.6" lengthAdjust="spacingAndGlyphs">4001.92</text>
<text x="329.5" y="20.9" font-size="12" fill="#089981" text-anchor="start" stroke="#089981" stroke-width="0.12" textLength="88.3" lengthAdjust="spacingAndGlyphs">+70.23 (+1.79%)</text>
<text x="9.1" y="39.1" font-size="12" fill="#131722" text-anchor="start" stroke="#131722" stroke-width="0.12" textLength="251.0" lengthAdjust="spacingAndGlyphs">Moving Average Triple (50, 100, 200, Simple)</text>
<text x="268.5" y="39.1" font-size="12" fill="#ff6d00" text-anchor="start" stroke="#ff6d00" stroke-width="0.12" textLength="43.8" lengthAdjust="spacingAndGlyphs">3807.82</text>
<text x="320.4" y="39.1" font-size="12" fill="#2196f3" text-anchor="start" stroke="#2196f3" stroke-width="0.12" textLength="43.8" lengthAdjust="spacingAndGlyphs">3577.96</text>
<text x="372.3" y="39.1" font-size="12" fill="#26c6da" text-anchor="start" stroke="#26c6da" stroke-width="0.12" textLength="44.1" lengthAdjust="spacingAndGlyphs">3340.18</text>
<text x="9.1" y="57.0" font-size="12" fill="#131722" text-anchor="start" stroke="#131722" stroke-width="0.12" textLength="156.0" lengthAdjust="spacingAndGlyphs">Pivots (Traditional, Daily, 1)</text>
<text x="9.3" y="610.0" font-size="12" fill="#131722" text-anchor="start" stroke="#131722" stroke-width="0.12" textLength="180.6" lengthAdjust="spacingAndGlyphs">FXS Fed Sentiment Index (close)</text>
<text x="198.7" y="610.0" font-size="12" fill="#131722" text-anchor="start" stroke="#131722" stroke-width="0.12" textLength="37.0" lengthAdjust="spacingAndGlyphs">104.42</text>
<text x="244.5" y="610.0" font-size="12" fill="#a8a8a8" text-anchor="start" stroke="#a8a8a8" stroke-width="0.12" textLength="36.7" lengthAdjust="spacingAndGlyphs">100.00</text>
</g>
<rect x="0" y="0" width="1670" height="1" fill="#eef0f4"/>
</svg>
</body></html>
